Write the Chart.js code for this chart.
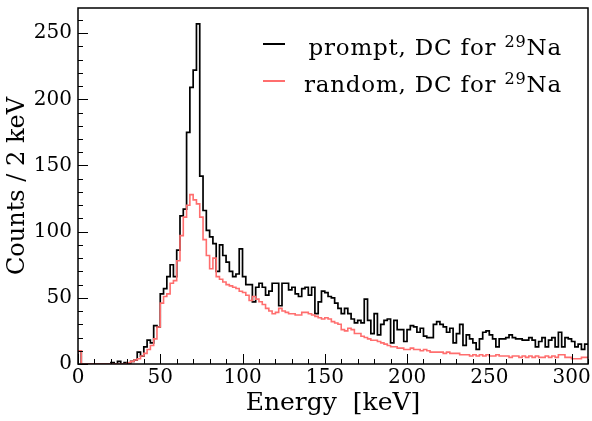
<!DOCTYPE html>
<html>
<head>
<meta charset="utf-8">
<script src="https://cdn.jsdelivr.net/npm/chart.js@4/dist/chart.umd.min.js"></script>
<style>
  body { margin: 0; background: #fff; }
  #wrap { position: relative; width: 592px; height: 421px; }
  .legend-row {
    position: absolute; left: 262px; width: 300px; height: 37px;
    font-family: "DejaVu Serif", serif; font-size: 23px; line-height: 37px;
    letter-spacing: 0.8px; text-align: right; color: #000; white-space: nowrap;
  }
  .legend-row .swatch { position: absolute; left: 1px; top: 14px; width: 22px; height: 0; border-top: 2px solid; }
  .legend-row .sup { font-size: 0.7em; position: relative; top: -0.5em; }
</style>
</head>
<body>
<div id="wrap">
  <canvas id="chart" width="592" height="421"></canvas>
  <div class="legend-row" style="top: 29px;"><span class="swatch" style="border-color: #000;"></span>prompt, DC for <span class="sup">29</span>Na</div>
  <div class="legend-row" style="top: 66px;"><span class="swatch" style="border-color: #ff6e6e;"></span>random, DC for <span class="sup">29</span>Na</div>
</div>
<script>
// histogram binning (keV)
const binWidth = 2;
const xMax = 310;
const yMax = 269;

// prompt, DC for 29Na - counts per 2 keV bin, starting at 0 keV
const promptCounts = [
  10, 0, 0, 0, 0, 0, 0, 0, 0, 0,
  1, 0, 2, 0, 1, 0, 2, 3, 9, 6,
  13, 18, 16, 29, 28, 53, 57, 66, 75, 66,
  86, 112, 117, 175, 209, 222, 257, 142, 116, 101,
  96, 91, 70, 90, 82, 77, 70, 66, 68, 87,
  66, 60, 60, 47, 58, 61, 58, 52, 55, 61,
  61, 44, 61, 61, 56, 58, 53, 51, 57, 58,
  52, 58, 38, 47, 55, 54, 51, 50, 46, 42,
  38, 42, 38, 34, 31, 33, 31, 49, 33, 23,
  38, 22, 30, 33, 34, 16, 33, 26, 26, 17,
  26, 29, 28, 24, 27, 21, 20, 20, 30, 32,
  30, 28, 24, 27, 16, 23, 30, 14, 22, 19,
  16, 11, 19, 24, 25, 22, 19, 13, 19, 19,
  20, 22, 20, 19, 19, 18, 18, 20, 18, 13,
  17, 20, 13, 18, 20, 13, 24, 13, 20, 19,
  17, 13, 15, 11, 15
];

// random, DC for 29Na
const randomCounts = [
  10, 0, 0, 0, 0, 0, 0, 0, 0, 0,
  0, 0, 0, 0, 0, 1, 2, 3, 4, 6,
  8, 11, 14, 19, 28, 46, 51, 53, 61, 63,
  78, 97, 111, 120, 128, 124, 121, 111, 94, 82,
  72, 80, 66, 64, 62, 60, 59, 58, 57, 55,
  54, 52, 48, 51, 49, 47, 45, 42, 40, 38,
  39, 42, 40, 39, 38, 38, 37, 37, 39, 39,
  38, 37, 36, 35, 34, 35, 34, 32, 31, 30,
  26, 25, 27, 26, 23, 23, 21, 20, 19, 18,
  18, 17, 16, 15, 14, 13, 13, 12, 12, 11,
  11, 12, 11, 11, 10, 11, 10, 9, 9, 9,
  9, 8, 9, 8, 8, 8, 7, 7, 7, 6,
  7, 6, 7, 6, 7, 6, 6, 7, 6, 6,
  6, 5, 6, 6, 5, 6, 5, 6, 5, 6,
  5, 5, 6, 5, 6, 5, 7, 7, 5, 5,
  4, 4, 4, 5, 5
];

// turn bin contents into step points (left edge of each bin + closing edge)
function toSteps(counts) {
  const pts = [{ x: 0, y: 0 }];
  counts.forEach((c, i) => pts.push({ x: i * binWidth, y: c }));
  pts.push({ x: counts.length * binWidth, y: counts[counts.length - 1] });
  return pts;
}

const labelFont = { family: "DejaVu Serif", size: 20 };

// ROOT-like frame with inward major/minor ticks
const frameTicks = {
  id: "frameTicks",
  afterDatasetsDraw(chart) {
    const { ctx, chartArea: a, scales: { x, y } } = chart;
    ctx.save();
    ctx.strokeStyle = "#000";
    ctx.lineWidth = 1;
    ctx.beginPath();
    for (let v = 0; v <= xMax; v += 10) {
      const px = Math.round(x.getPixelForValue(v)) + 0.5;
      const len = v % 50 === 0 ? 10 : 5;
      ctx.moveTo(px, a.bottom);
      ctx.lineTo(px, a.bottom - len);
    }
    for (let v = 0; v <= yMax; v += 10) {
      const py = Math.round(y.getPixelForValue(v)) + 0.5;
      const len = v % 50 === 0 ? 10 : 5;
      ctx.moveTo(a.left, py);
      ctx.lineTo(a.left + len, py);
    }
    ctx.stroke();
    ctx.lineWidth = 1.5;
    ctx.strokeRect(a.left, a.top, a.right - a.left, a.bottom - a.top);
    ctx.restore();
  }
};

new Chart(document.getElementById("chart").getContext("2d"), {
  type: "line",
  data: {
    datasets: [
      {
        label: "prompt, DC for 29Na",
        data: toSteps(promptCounts),
        stepped: "before",
        borderColor: "#000",
        borderWidth: 1.7,
        pointRadius: 0,
        fill: false,
        order: 1
      },
      {
        label: "random, DC for 29Na",
        data: toSteps(randomCounts),
        stepped: "before",
        borderColor: "#ff6e6e",
        borderWidth: 1.6,
        pointRadius: 0,
        fill: false,
        order: 0
      }
    ]
  },
  options: {
    responsive: false,
    animation: false,
    layout: { padding: { top: 8, right: 4 } },
    plugins: { legend: { display: false }, tooltip: { enabled: false } },
    scales: {
      x: {
        type: "linear",
        min: 0,
        max: xMax,
        grid: { display: false, drawTicks: false },
        border: { display: false },
        ticks: { stepSize: 50, includeBounds: false, maxRotation: 0, padding: 2, color: "#000", font: labelFont },
        title: { display: true, text: "Energy  [keV]", color: "#000", font: { family: "DejaVu Serif", size: 25 }, padding: { top: 0, bottom: 3 } },
        afterFit: s => { s.height = 57; s.paddingLeft = 0; s.paddingRight = 0; }
      },
      y: {
        min: 0,
        max: yMax,
        grid: { display: false, drawTicks: false },
        border: { display: false },
        ticks: { stepSize: 50, includeBounds: false, padding: 6, color: "#000", font: labelFont },
        title: { display: true, text: "Counts / 2 keV", color: "#000", font: { family: "DejaVu Serif", size: 24 }, padding: { top: 3, bottom: 0 } },
        afterFit: s => { s.width = 78; s.paddingTop = 0; s.paddingBottom = 0; }
      }
    }
  },
  plugins: [frameTicks]
});
</script>
</body>
</html>
